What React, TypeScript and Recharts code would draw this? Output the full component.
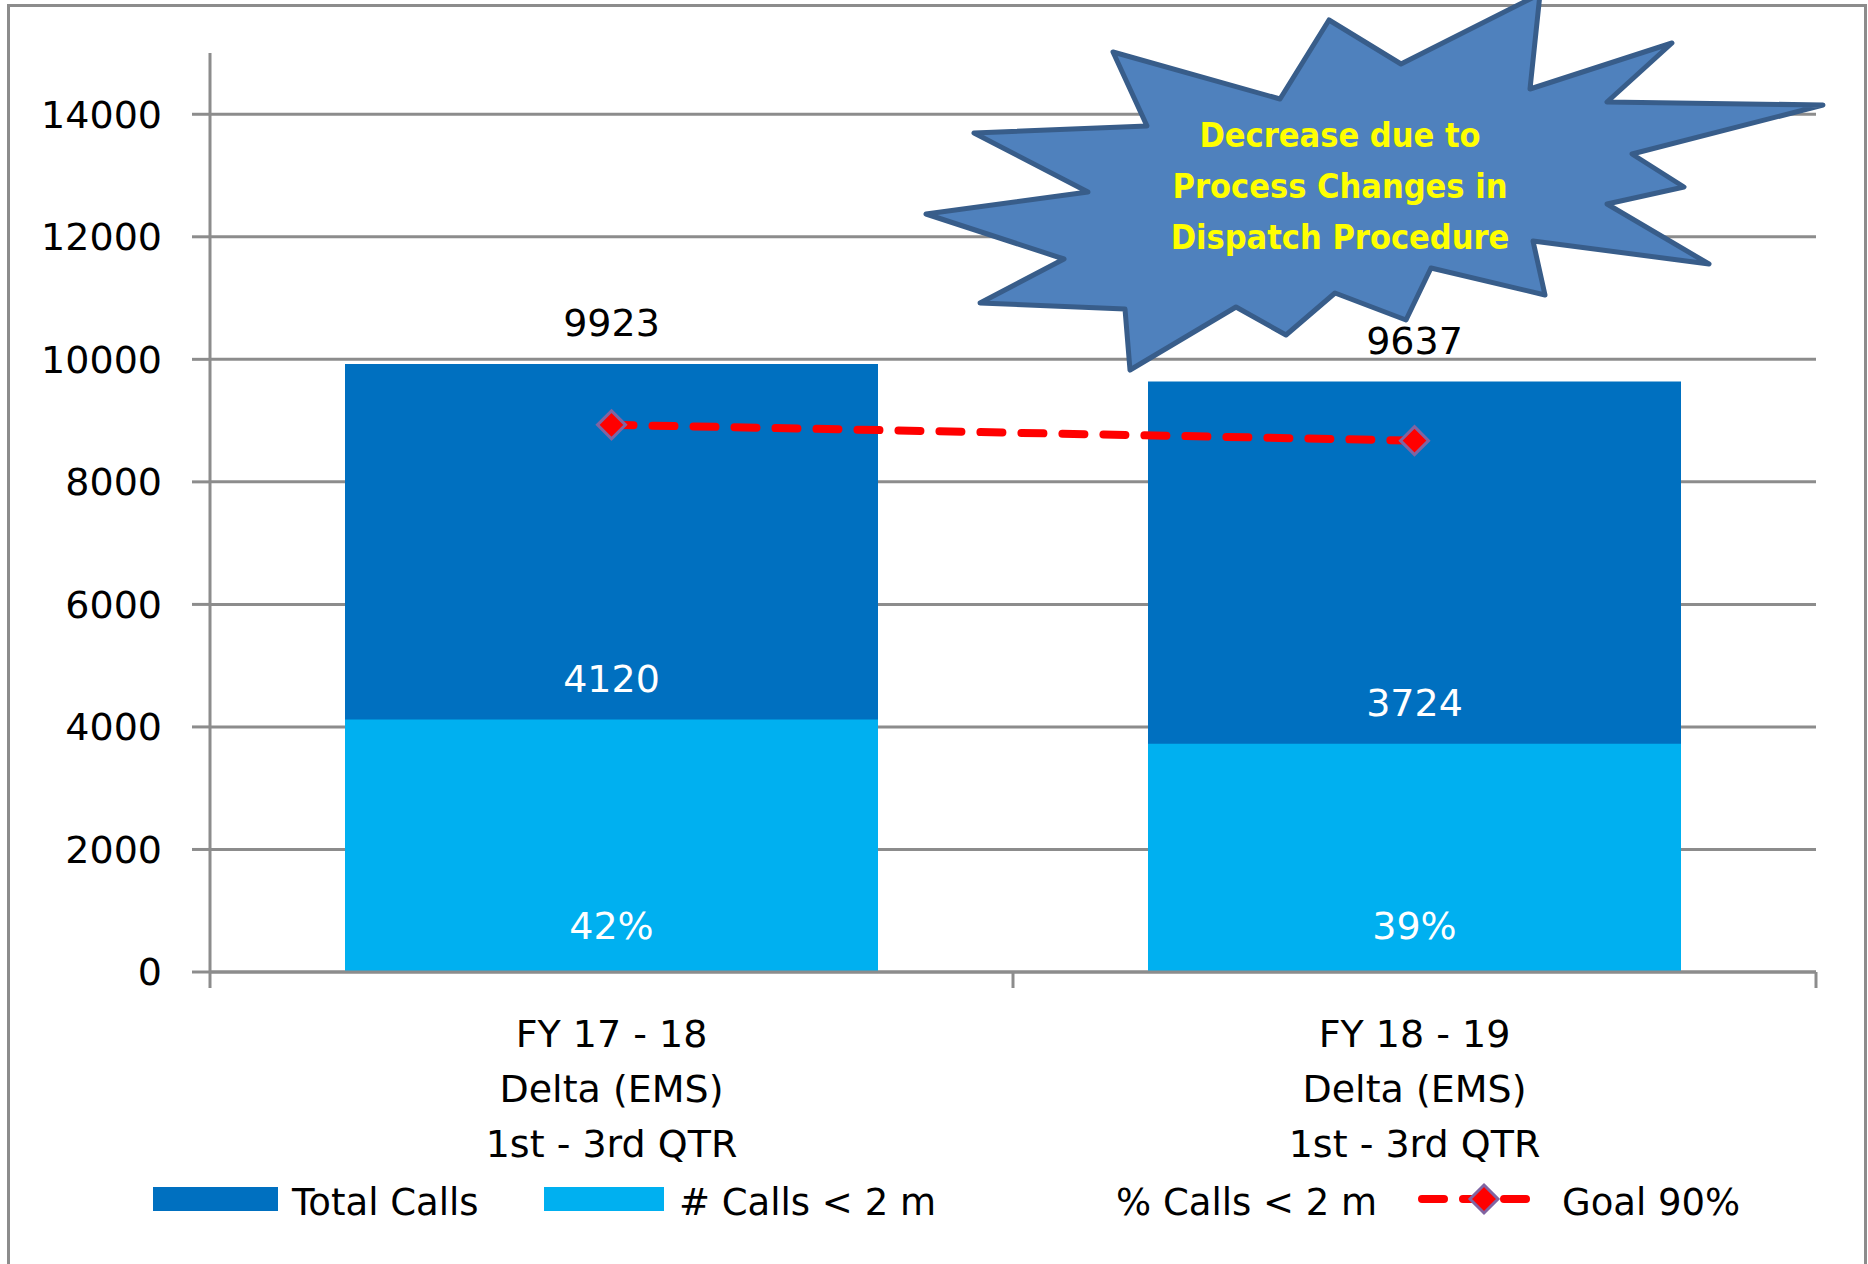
import React from 'react';
import {
  ComposedChart, Bar, Line, XAxis, YAxis, CartesianGrid, LabelList,
} from 'recharts';

// values
const periods = ['FY 17 - 18', 'FY 18 - 19'];
const unitName = 'Delta (EMS)';
const spanName = '1st - 3rd QTR';
const totalCalls = [9923, 9637];
const callsUnder2m = [4120, 3724];
const pctUnder2m = [42, 39];
const goal90 = [8931, 8673];
const yTicks = [0, 2000, 4000, 6000, 8000, 10000, 12000, 14000];

const DARK = '#0070C0';
const LIGHT = '#00B0F0';
const GOAL = '#FF0000';
const GRID = '#8c8c8c';
const FONT = '"DejaVu Sans", sans-serif';

// callout burst outline (annotation, not data)
const burstPoints = [
  [1540, -6], [1530, 89], [1672, 43], [1607, 102], [1823, 105], [1632, 154],
  [1684, 187], [1607, 204], [1709, 264], [1533, 241], [1545, 295], [1431, 268],
  [1406, 320], [1335, 293], [1286, 335], [1236, 307], [1130, 370], [1125, 309],
  [980, 303], [1064, 259], [926, 214], [1088, 192], [974, 133], [1147, 126],
  [1113, 52], [1280, 99], [1329, 20], [1401, 64],
];
const burstText = ['Decrease due to', 'Process Changes in', 'Dispatch Procedure'];

const data = periods.map((p, i) => ({
  cat: `${p}\n${unitName}\n${spanName}`,
  total: totalCalls[i],
  under: callsUnder2m[i],
  pct: pctUnder2m[i],
  goal: goal90[i],
}));

// category label plus Excel-style tick marks on the band edges
function CategoryTick(props: any) {
  const { x, y, payload, index, visibleTicksCount } = props;
  const lines = String(payload.value).split('\n');
  const half = payload.offset || 0;
  const last = index === (visibleTicksCount ?? periods.length) - 1;
  return (
    <g>
      {half > 0 && (
        <line x1={x - half} y1={y} x2={x - half} y2={y + 16} stroke={GRID} strokeWidth={3} />
      )}
      {half > 0 && last && (
        <line x1={x + half} y1={y} x2={x + half} y2={y + 16} stroke={GRID} strokeWidth={3} />
      )}
      {lines.map((l, i) => (
        <text key={i} x={x} y={y + 75 + i * 55} textAnchor="middle"
          fontFamily={FONT} fontSize={38} fill="#000">{l}</text>
      ))}
    </g>
  );
}

function Diamond(props: any) {
  const { cx, cy } = props;
  if (cx == null || cy == null) return null;
  const r = 14;
  return (
    <polygon points={`${cx},${cy - r} ${cx + r},${cy} ${cx},${cy + r} ${cx - r},${cy}`}
      fill={GOAL} stroke="#8064A2" strokeWidth={3} />
  );
}

function LegendRow() {
  const txt: React.CSSProperties = {
    position: 'absolute', top: 1180, fontFamily: FONT, fontSize: 37,
    lineHeight: '46px', color: '#000', whiteSpace: 'nowrap',
  };
  return (
    <>
      <div style={{ position: 'absolute', left: 153, top: 1187, width: 125, height: 24, background: DARK }} />
      <div style={{ ...txt, left: 292 }}>Total Calls</div>
      <div style={{ position: 'absolute', left: 544, top: 1187, width: 120, height: 24, background: LIGHT }} />
      <div style={{ ...txt, left: 679 }}>{'# Calls < 2 m'}</div>
      <div style={{ ...txt, left: 1116 }}>{'% Calls < 2 m'}</div>
      <svg style={{ position: 'absolute', left: 1410, top: 1180 }} width={140} height={40}>
        <line x1={12} y1={19} x2={128} y2={19} stroke={GOAL} strokeWidth={8}
          strokeDasharray="22 19" strokeLinecap="round" />
        <Diamond cx={74} cy={19} />
      </svg>
      <div style={{ ...txt, left: 1562 }}>Goal 90%</div>
    </>
  );
}

export default function App() {
  return (
    <div style={{ position: 'absolute', left: 0, top: 0, width: 1868, height: 1264, overflow: 'hidden', background: '#fff' }}>
      <div style={{
        position: 'absolute', left: 7, top: 4, width: 1860, height: 1300,
        border: `3px solid ${GRID}`, boxSizing: 'border-box',
      }} />
      <div style={{ position: 'absolute', left: 0, top: 0 }}>
        <ComposedChart width={1868} height={1264} data={data}
          margin={{ top: 53, right: 52, bottom: 0, left: 0 }}>
          <CartesianGrid xAxisId="a" vertical={false} horizontalValues={yTicks}
            stroke={GRID} strokeWidth={3} />
          <XAxis xAxisId="a" dataKey="cat" height={292} tick={<CategoryTick />}
            tickLine={false} tickSize={0} tickMargin={0}
            axisLine={{ stroke: GRID, strokeWidth: 3 }} interval={0} />
          <XAxis xAxisId="b" dataKey="cat" hide />
          <YAxis xAxisId="a" width={210} domain={[0, 15000]} ticks={yTicks}
            allowDataOverflow axisLine={{ stroke: GRID, strokeWidth: 3 }}
            tickLine={{ stroke: GRID, strokeWidth: 3 }} tickSize={18} tickMargin={30}
            tick={{ fontFamily: FONT, fontSize: 38, fill: '#000' }} />
          <Bar xAxisId="a" dataKey="total" fill={DARK} barSize={533} isAnimationActive={false}>
            <LabelList dataKey="total" position="top" offset={28}
              fontFamily={FONT} fontSize={38} fill="#000" />
          </Bar>
          <Bar xAxisId="b" dataKey="under" fill={LIGHT} barSize={533} isAnimationActive={false}>
            <LabelList dataKey="under" position="top" offset={28}
              fontFamily={FONT} fontSize={38} fill="#fff" />
            <LabelList dataKey="pct" position="insideBottom" offset={33}
              formatter={(v: any) => `${v}%`}
              fontFamily={FONT} fontSize={38} fill="#fff" />
          </Bar>
          <Line xAxisId="a" dataKey="goal" type="linear" stroke={GOAL} strokeWidth={8}
            strokeDasharray="22 19" strokeLinecap="round" dot={<Diamond />}
            activeDot={false} isAnimationActive={false} />
        </ComposedChart>
      </div>
      <svg style={{ position: 'absolute', left: 0, top: 0 }} width={1868} height={420}>
        <polygon points={burstPoints.map(p => p.join(',')).join(' ')}
          fill="#4F81BD" stroke="#385D8A" strokeWidth={5} strokeLinejoin="round" />
        {burstText.map((t, i) => (
          <text key={i} x={1340} y={147 + i * 51} textAnchor="middle"
            fontFamily='"DejaVu Sans Condensed", "DejaVu Sans", sans-serif'
            fontWeight="bold" fontSize={34} fill="#FFFF00">{t}</text>
        ))}
      </svg>
      <LegendRow />
    </div>
  );
}
